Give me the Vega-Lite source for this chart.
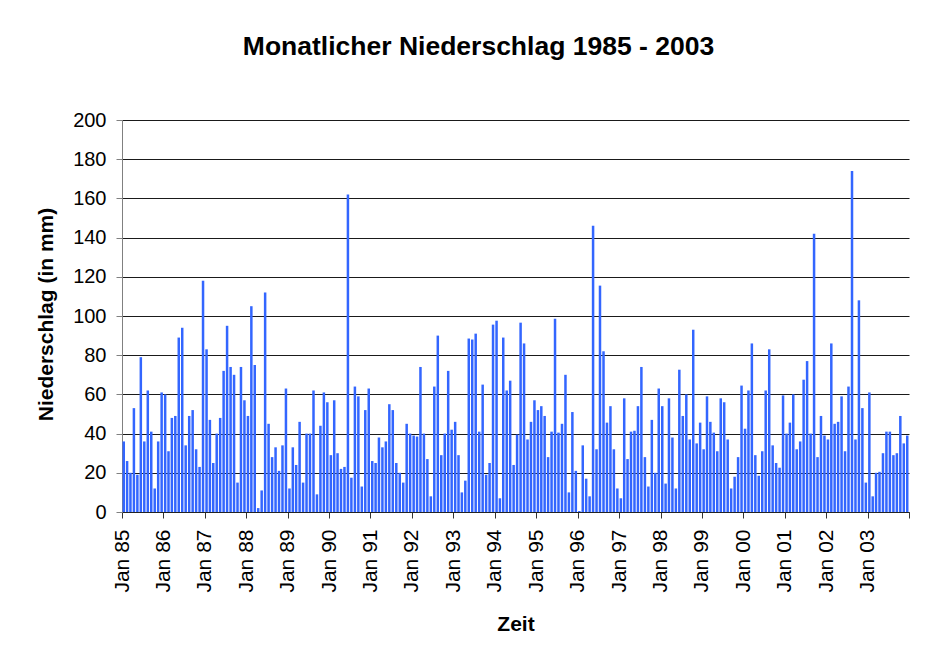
{
  "$schema": "https://vega.github.io/schema/vega-lite/v6.json",
  "autosize": {"type": "none"},
  "padding": {"left": 122, "top": 120, "right": 37, "bottom": 145},
  "width": 787,
  "height": 392,
  "background": "white",
  "title": {
    "text": "Monatlicher Niederschlag 1985 - 2003",
    "font": "Liberation Sans, Arial, sans-serif",
    "fontSize": 26.5,
    "fontWeight": "bold",
    "color": "#000000",
    "anchor": "middle",
    "frame": "group",
    "baseline": "alphabetic",
    "dx": -37,
    "offset": 29
  },
  "config": {
    "view": {"stroke": null},
    "font": "Liberation Sans, Arial, sans-serif"
  },
  "datasets": {
    "rain": [
      {"d":"1985-01","v":36},{"d":"1985-02","v":26},{"d":"1985-03","v":20},{"d":"1985-04","v":53},{"d":"1985-05","v":19},{"d":"1985-06","v":79},{"d":"1985-07","v":36},{"d":"1985-08","v":62},{"d":"1985-09","v":41},{"d":"1985-10","v":12},{"d":"1985-11","v":36},{"d":"1985-12","v":61},
      {"d":"1986-01","v":60},{"d":"1986-02","v":31},{"d":"1986-03","v":48},{"d":"1986-04","v":49},{"d":"1986-05","v":89},{"d":"1986-06","v":94},{"d":"1986-07","v":34},{"d":"1986-08","v":49},{"d":"1986-09","v":52},{"d":"1986-10","v":32},{"d":"1986-11","v":23},{"d":"1986-12","v":118},
      {"d":"1987-01","v":83},{"d":"1987-02","v":47},{"d":"1987-03","v":25},{"d":"1987-04","v":40},{"d":"1987-05","v":48},{"d":"1987-06","v":72},{"d":"1987-07","v":95},{"d":"1987-08","v":74},{"d":"1987-09","v":70},{"d":"1987-10","v":15},{"d":"1987-11","v":74},{"d":"1987-12","v":57},
      {"d":"1988-01","v":49},{"d":"1988-02","v":105},{"d":"1988-03","v":75},{"d":"1988-04","v":2},{"d":"1988-05","v":11},{"d":"1988-06","v":112},{"d":"1988-07","v":45},{"d":"1988-08","v":28},{"d":"1988-09","v":33},{"d":"1988-10","v":21},{"d":"1988-11","v":34},{"d":"1988-12","v":63},
      {"d":"1989-01","v":12},{"d":"1989-02","v":33},{"d":"1989-03","v":24},{"d":"1989-04","v":46},{"d":"1989-05","v":15},{"d":"1989-06","v":40},{"d":"1989-07","v":40},{"d":"1989-08","v":62},{"d":"1989-09","v":9},{"d":"1989-10","v":44},{"d":"1989-11","v":61},{"d":"1989-12","v":56},
      {"d":"1990-01","v":29},{"d":"1990-02","v":57},{"d":"1990-03","v":30},{"d":"1990-04","v":22},{"d":"1990-05","v":23},{"d":"1990-06","v":162},{"d":"1990-07","v":17.5},{"d":"1990-08","v":64},{"d":"1990-09","v":59},{"d":"1990-10","v":13},{"d":"1990-11","v":52},{"d":"1990-12","v":63},
      {"d":"1991-01","v":26},{"d":"1991-02","v":25},{"d":"1991-03","v":38},{"d":"1991-04","v":33},{"d":"1991-05","v":36},{"d":"1991-06","v":55},{"d":"1991-07","v":52},{"d":"1991-08","v":25},{"d":"1991-09","v":20},{"d":"1991-10","v":15},{"d":"1991-11","v":45},{"d":"1991-12","v":40},
      {"d":"1992-01","v":39},{"d":"1992-02","v":38.5},{"d":"1992-03","v":74},{"d":"1992-04","v":40},{"d":"1992-05","v":27},{"d":"1992-06","v":8},{"d":"1992-07","v":64},{"d":"1992-08","v":90},{"d":"1992-09","v":29},{"d":"1992-10","v":40},{"d":"1992-11","v":72},{"d":"1992-12","v":42},
      {"d":"1993-01","v":46},{"d":"1993-02","v":29},{"d":"1993-03","v":10},{"d":"1993-04","v":16},{"d":"1993-05","v":88.5},{"d":"1993-06","v":88},{"d":"1993-07","v":91},{"d":"1993-08","v":41},{"d":"1993-09","v":65},{"d":"1993-10","v":19},{"d":"1993-11","v":25},{"d":"1993-12","v":95.6},
      {"d":"1994-01","v":97.6},{"d":"1994-02","v":7},{"d":"1994-03","v":89},{"d":"1994-04","v":62},{"d":"1994-05","v":67},{"d":"1994-06","v":24},{"d":"1994-07","v":39.5},{"d":"1994-08","v":96.6},{"d":"1994-09","v":86},{"d":"1994-10","v":37},{"d":"1994-11","v":46},{"d":"1994-12","v":57},
      {"d":"1995-01","v":52},{"d":"1995-02","v":54},{"d":"1995-03","v":49},{"d":"1995-04","v":28},{"d":"1995-05","v":41},{"d":"1995-06","v":98.6},{"d":"1995-07","v":40.5},{"d":"1995-08","v":45},{"d":"1995-09","v":70},{"d":"1995-10","v":10},{"d":"1995-11","v":51},{"d":"1995-12","v":21},
      {"d":"1996-01","v":0.5},{"d":"1996-02","v":34},{"d":"1996-03","v":17},{"d":"1996-04","v":8},{"d":"1996-05","v":146},{"d":"1996-06","v":32},{"d":"1996-07","v":115.5},{"d":"1996-08","v":82},{"d":"1996-09","v":45.6},{"d":"1996-10","v":54},{"d":"1996-11","v":32},{"d":"1996-12","v":12},
      {"d":"1997-01","v":7},{"d":"1997-02","v":58},{"d":"1997-03","v":27},{"d":"1997-04","v":41},{"d":"1997-05","v":41.5},{"d":"1997-06","v":54},{"d":"1997-07","v":74},{"d":"1997-08","v":28},{"d":"1997-09","v":13},{"d":"1997-10","v":47},{"d":"1997-11","v":20},{"d":"1997-12","v":63},
      {"d":"1998-01","v":54},{"d":"1998-02","v":14.5},{"d":"1998-03","v":58},{"d":"1998-04","v":38},{"d":"1998-05","v":12},{"d":"1998-06","v":72.6},{"d":"1998-07","v":49},{"d":"1998-08","v":60},{"d":"1998-09","v":37},{"d":"1998-10","v":93},{"d":"1998-11","v":35},{"d":"1998-12","v":45.6},
      {"d":"1999-01","v":32},{"d":"1999-02","v":59},{"d":"1999-03","v":46},{"d":"1999-04","v":40.5},{"d":"1999-05","v":31},{"d":"1999-06","v":58},{"d":"1999-07","v":56},{"d":"1999-08","v":37},{"d":"1999-09","v":12},{"d":"1999-10","v":18},{"d":"1999-11","v":28},{"d":"1999-12","v":64.5},
      {"d":"2000-01","v":42.5},{"d":"2000-02","v":62},{"d":"2000-03","v":86},{"d":"2000-04","v":29},{"d":"2000-05","v":18.5},{"d":"2000-06","v":31},{"d":"2000-07","v":62},{"d":"2000-08","v":83},{"d":"2000-09","v":34},{"d":"2000-10","v":25},{"d":"2000-11","v":22.6},{"d":"2000-12","v":59.5},
      {"d":"2001-01","v":40},{"d":"2001-02","v":45.6},{"d":"2001-03","v":60},{"d":"2001-04","v":32},{"d":"2001-05","v":36},{"d":"2001-06","v":67.5},{"d":"2001-07","v":77},{"d":"2001-08","v":40},{"d":"2001-09","v":142},{"d":"2001-10","v":28},{"d":"2001-11","v":49},{"d":"2001-12","v":39},
      {"d":"2002-01","v":37},{"d":"2002-02","v":86},{"d":"2002-03","v":45},{"d":"2002-04","v":46},{"d":"2002-05","v":59},{"d":"2002-06","v":31},{"d":"2002-07","v":64},{"d":"2002-08","v":174},{"d":"2002-09","v":37},{"d":"2002-10","v":108},{"d":"2002-11","v":53},{"d":"2002-12","v":15},
      {"d":"2003-01","v":61},{"d":"2003-02","v":8},{"d":"2003-03","v":20},{"d":"2003-04","v":20.5},{"d":"2003-05","v":30},{"d":"2003-06","v":41},{"d":"2003-07","v":41},{"d":"2003-08","v":29},{"d":"2003-09","v":30},{"d":"2003-10","v":49},{"d":"2003-11","v":35},{"d":"2003-12","v":39}
    ]
  },
  "data": {"name": "rain"},
  "mark": {"type": "bar", "color": "#3366FF", "width": 2.5},
  "encoding": {
    "x": {
      "field": "d",
      "type": "temporal",
      "timeUnit": "utcyearmonth",
      "bandPosition": 0.5,
      "scale": {
        "type": "utc",
        "domain": [
          {"year": 1985, "month": 1, "date": 1, "utc": true},
          {"year": 2004, "month": 1, "date": 1, "utc": true}
        ]
      },
      "axis": {
        "title": "Zeit",
        "titleFont": "Liberation Sans, Arial, sans-serif",
        "titleFontSize": 21,
        "titleFontWeight": "bold",
        "titleColor": "#000000",
        "titleX": 393.5,
        "titleY": 118,
        "titleAlign": "center",
        "titleBaseline": "alphabetic",
        "values": [
          {"year": 1985, "month": 1, "date": 1, "utc": true},
          {"year": 1986, "month": 1, "date": 1, "utc": true},
          {"year": 1987, "month": 1, "date": 1, "utc": true},
          {"year": 1988, "month": 1, "date": 1, "utc": true},
          {"year": 1989, "month": 1, "date": 1, "utc": true},
          {"year": 1990, "month": 1, "date": 1, "utc": true},
          {"year": 1991, "month": 1, "date": 1, "utc": true},
          {"year": 1992, "month": 1, "date": 1, "utc": true},
          {"year": 1993, "month": 1, "date": 1, "utc": true},
          {"year": 1994, "month": 1, "date": 1, "utc": true},
          {"year": 1995, "month": 1, "date": 1, "utc": true},
          {"year": 1996, "month": 1, "date": 1, "utc": true},
          {"year": 1997, "month": 1, "date": 1, "utc": true},
          {"year": 1998, "month": 1, "date": 1, "utc": true},
          {"year": 1999, "month": 1, "date": 1, "utc": true},
          {"year": 2000, "month": 1, "date": 1, "utc": true},
          {"year": 2001, "month": 1, "date": 1, "utc": true},
          {"year": 2002, "month": 1, "date": 1, "utc": true},
          {"year": 2003, "month": 1, "date": 1, "utc": true},
          {"year": 2004, "month": 1, "date": 1, "utc": true}
        ],
        "labelExpr": "utcyear(datum.value) < 2004 ? utcFormat(datum.value, '%b %y') : ''",
        "labelAngle": 270,
        "labelAlign": "right",
        "labelBaseline": "middle",
        "labelFont": "Liberation Sans, Arial, sans-serif",
        "labelFontSize": 21,
        "labelColor": "#000000",
        "labelPadding": 11,
        "labelOverlap": false,
        "labelFlush": false,
        "tickSize": 6,
        "tickColor": "#333333",
        "domainColor": "#222222",
        "grid": false
      }
    },
    "y": {
      "field": "v",
      "type": "quantitative",
      "scale": {"domain": [0, 200], "nice": false, "zero": true},
      "axis": {
        "title": "Niederschlag (in mm)",
        "titleFont": "Liberation Sans, Arial, sans-serif",
        "titleFontSize": 21,
        "titleFontWeight": "bold",
        "titleColor": "#000000",
        "titleAngle": 270,
        "titleX": -76,
        "titleY": 194,
        "titleAlign": "center",
        "titleBaseline": "middle",
        "values": [0, 20, 40, 60, 80, 100, 120, 140, 160, 180, 200],
        "labelFont": "Liberation Sans, Arial, sans-serif",
        "labelFontSize": 20,
        "labelColor": "#000000",
        "labelPadding": 10,
        "tickSize": 6,
        "tickColor": "#808080",
        "domainColor": "#808080",
        "grid": true,
        "gridColor": "#1a1a1a",
        "gridWidth": 1
      }
    }
  }
}
